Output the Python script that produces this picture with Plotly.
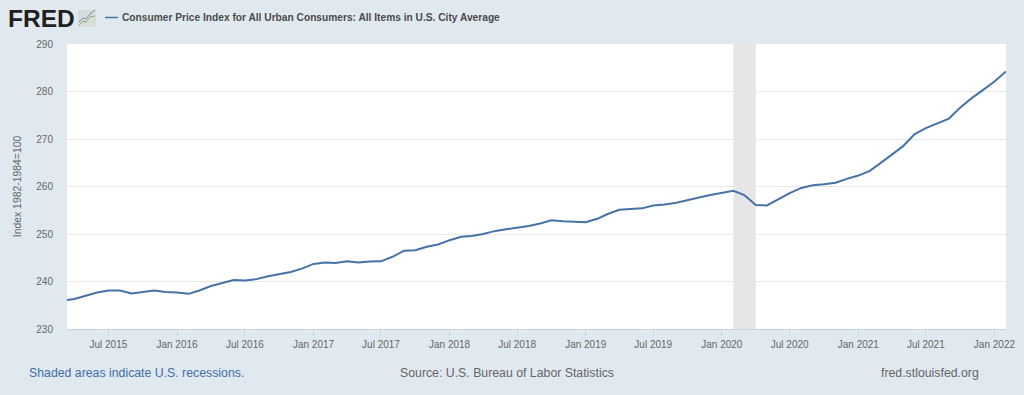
import plotly.graph_objects as go
import pandas as pd

SERIES_NAME = "Consumer Price Index for All Urban Consumers: All Items in U.S. City Average"
START_MONTH = "2015-03-01"
cpi_values = [
    236.0, 236.3, 237.0, 237.7, 238.1, 238.1, 237.5, 237.8, 238.1, 237.8,
    237.7, 237.4, 238.1, 239.05, 239.7, 240.3, 240.2, 240.5, 241.1, 241.6,
    242.0, 242.7, 243.7, 244.0, 243.9, 244.25, 244.0, 244.2, 244.25, 245.2,
    246.5, 246.6, 247.3, 247.8, 248.7, 249.4, 249.6, 250.0, 250.6, 251.0,
    251.3, 251.7, 252.2, 252.9, 252.7, 252.6, 252.5, 253.2, 254.2, 255.1,
    255.3, 255.4, 256.0, 256.2, 256.6, 257.2, 257.7, 258.2, 258.7, 259.1,
    258.2, 256.1, 256.0, 257.3, 258.6, 259.7, 260.25, 260.45, 260.8, 261.6,
    262.3, 263.3, 265.0, 266.7, 268.5, 271.05, 272.3, 273.3, 274.3, 276.6,
    278.6, 280.3, 282.1, 284.2,
]
months = pd.date_range(START_MONTH, periods=len(cpi_values), freq="MS")

x_tick_dates = ["2015-07-01", "2016-01-01", "2016-07-01", "2017-01-01", "2017-07-01",
                "2018-01-01", "2018-07-01", "2019-01-01", "2019-07-01", "2020-01-01",
                "2020-07-01", "2021-01-01", "2021-07-01", "2022-01-01"]
x_tick_labels = ["Jul 2015", "Jan 2016", "Jul 2016", "Jan 2017", "Jul 2017",
                 "Jan 2018", "Jul 2018", "Jan 2019", "Jul 2019", "Jan 2020",
                 "Jul 2020", "Jan 2021", "Jul 2021", "Jan 2022"]
y_ticks = [230, 240, 250, 260, 270, 280, 290]
recession = ("2020-02-01", "2020-04-01")
x_range = ["2015-03-12", "2022-02-01"]

W, H = 1024, 395
PL, PR, PT, PB = 67, 1006, 44, 329
BG = "#e1e9f0"
LINE = "#4572a7"
FONT = "Liberation Sans, Arial, sans-serif"


def px(x):
    return (x - PL) / (PR - PL)


def py(y):
    return (PB - y) / (PB - PT)


fig = go.Figure()
fig.add_trace(go.Scatter(x=months, y=cpi_values, mode="lines", name=SERIES_NAME,
                         line=dict(color=LINE, width=2), showlegend=False, cliponaxis=True))
fig.add_vrect(x0=recession[0], x1=recession[1], fillcolor="#e6e6e6", line_width=0, layer="below")

# header: logo and legend key
shapes = [
    dict(type="rect", xref="paper", yref="paper", x0=px(78), x1=px(96), y0=py(27), y1=py(10),
         fillcolor="#d9dcd8", line_width=0),
    dict(type="path", xref="paper", yref="paper", line=dict(color="#8fae7c", width=1),
         path=f"M {px(79)} {py(25)} L {px(83)} {py(21)} L {px(86)} {py(22)} L {px(90)} {py(17)} L {px(95)} {py(16)}"),
    dict(type="path", xref="paper", yref="paper", line=dict(color="#6f93bd", width=1),
         path=f"M {px(79)} {py(22)} L {px(83)} {py(18)} L {px(86)} {py(19)} L {px(90)} {py(14)} L {px(95)} {py(10)}"),
    dict(type="line", xref="paper", yref="paper", x0=px(105), x1=px(118), y0=py(17.5), y1=py(17.5),
         line=dict(color=LINE, width=1.5)),
]
for s in shapes:
    fig.add_shape(**s)


def note(x, y, text, size, color, anchor="left", bold=False):
    fig.add_annotation(xref="paper", yref="paper", x=px(x), y=py(y), text=f"<b>{text}</b>" if bold else text,
                       showarrow=False, xanchor=anchor, yanchor="middle",
                       font=dict(family=FONT, size=size, color=color), borderpad=0, borderwidth=0)


note(7.5, 18.5, "FRED", 24.5, "#231f20", bold=True)
note(122, 17.5, SERIES_NAME, 10.2, "#4a4a4a", bold=True)
note(29, 373, "Shaded areas indicate U.S. recessions.", 12.3, "#3f6ea8")
note(507, 373, "Source: U.S. Bureau of Labor Statistics", 12.3, "#666666", anchor="center")
note(979, 373, "fred.stlouisfed.org", 12.3, "#666666", anchor="right")

fig.update_layout(
    width=W, height=H, paper_bgcolor=BG, plot_bgcolor="#ffffff",
    margin=dict(l=PL, r=W - PR, t=PT, b=H - PB, pad=0),
    font=dict(family=FONT, size=10, color="#666666"),
    hovermode=False,
    xaxis=dict(type="date", range=x_range, tickmode="array", tickvals=x_tick_dates, ticktext=x_tick_labels,
               ticks="outside", ticklen=6, tickwidth=1, tickcolor="#c8d6e4", showgrid=False, automargin=False,
               showline=True, linecolor="#c8d6e4", linewidth=1, tickangle=0, zeroline=False,
               tickfont=dict(size=10, color="#666666")),
    yaxis=dict(range=[230, 290], tickmode="array", tickvals=y_ticks, ticktext=[str(v) for v in y_ticks],
               ticks="outside", ticklen=11, tickcolor="rgba(0,0,0,0)", showgrid=True, gridcolor="#e8e8e8", gridwidth=1,
               zeroline=False, showline=False, tickfont=dict(size=10, color="#666666"), automargin=False,
               title=dict(text="Index 1982-1984=100", font=dict(size=10.4, color="#666666"), standoff=12)),
)

fig.write_html("out.html", config={"displayModeBar": False},
               post_script="document.body.style.margin='0';document.body.style.overflow='hidden';")
